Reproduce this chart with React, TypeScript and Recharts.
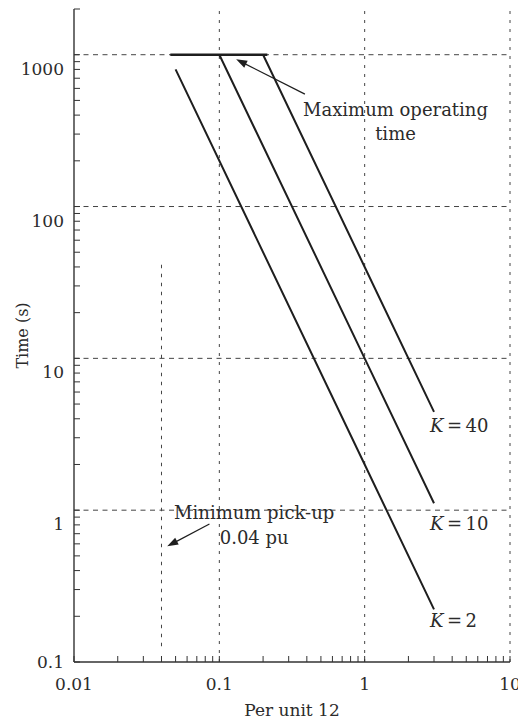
import React from 'react';
import { LineChart, Line, XAxis, YAxis, ReferenceLine, ReferenceDot, Label } from 'recharts';

// ---- data ----
const xDecades = [0.01, 0.1, 1, 10];
const xTickLabels = ['0.01', '0.1', '1', '10'];
const yDecades = [0.1, 1, 10, 100, 1000];
const yTickLabels = ['0.1', '1', '10', '100', '1000'];
const minorSteps = [2, 3, 4, 5, 6, 7, 8, 9];
const xGridValues = [0.1, 1, 10];
const yGridValues = [1, 10, 100, 1000];

const curveK2 = [{ I: 0.05, t: 800 }, { I: 1, t: 2 }, { I: 3, t: 0.222 }];
const curveK10 = [{ I: 0.1, t: 1000 }, { I: 1, t: 10 }, { I: 3, t: 1.11 }];
const curveK40 = [{ I: 0.2, t: 1000 }, { I: 1, t: 40 }, { I: 3, t: 4.44 }];
const maxTimeLine = [{ I: 0.046, t: 1000 }, { I: 0.214, t: 1000 }];
const minPickupLine = [{ I: 0.04, t: 0.127 }, { I: 0.04, t: 42 }];

// annotation anchors (data coordinates)
const maxArrow = [{ x: 0.388, y: 550 }, { x: 0.1305, y: 933 }];
const minArrow = [{ x: 0.0855, y: 0.811 }, { x: 0.0438, y: 0.578 }];
const maxText = { x: 1.63, y: 394, lines: ['Maximum operating', 'time'] };
const minText = { x: 0.1737, y: 0.88, lines: ['Minimum pick-up', '0.04 pu'] };
const kLabels = [
  { k: '40', x: 2.81, y: 3.27 },
  { k: '10', x: 2.81, y: 0.745 },
  { k: '2', x: 2.81, y: 0.169 },
];

const xTicks = [...xDecades, ...xDecades.slice(0, -1).flatMap((d) => minorSteps.map((m) => +(d * m).toPrecision(6)))].sort((a, b) => a - b);
const yTicks = [...yDecades, ...yDecades.flatMap((d) => minorSteps.map((m) => +(d * m).toPrecision(6)))]
  .filter((v) => v <= 2000)
  .sort((a, b) => a - b);

const FONT = '"DejaVu Serif", serif';
const INK = '#1e1e1e';
const TEXT = '#2b2b2b';
const AXIS = '#333';
const GRID = '#444';

const findIdx = (arr: number[], v: number) => arr.findIndex((d) => Math.abs(v - d) < d * 1e-6);

const BottomTick = (p: any) => {
  const { x, y, payload } = p;
  const idx = findIdx(xDecades, payload.value);
  return (
    <g>
      <line x1={x} y1={y} x2={x} y2={y - 6} stroke={AXIS} strokeWidth={1} />
      {idx >= 0 && (
        <text x={x} y={y + 28} textAnchor="middle" fontFamily={FONT} fontSize={17} fill={TEXT}>
          {xTickLabels[idx]}
        </text>
      )}
    </g>
  );
};

const TopTick = (p: any) => {
  const { x, y } = p;
  return <line x1={x} y1={y} x2={x} y2={y + 6} stroke={AXIS} strokeWidth={1} />;
};

const LeftTick = (p: any) => {
  const { x, y, payload } = p;
  const idx = findIdx(yDecades, payload.value);
  return (
    <g>
      <line x1={x} y1={y} x2={x + 6} y2={y} stroke={AXIS} strokeWidth={1} />
      {idx >= 0 && (
        <text x={x - 10} y={y + (idx === 0 ? 6 : 20)} textAnchor="end" fontFamily={FONT} fontSize={17} fill={TEXT}>
          {yTickLabels[idx]}
        </text>
      )}
    </g>
  );
};

const ArrowShape = (p: any) => {
  const { x1, y1, x2, y2 } = p;
  const dx = x2 - x1;
  const dy = y2 - y1;
  const len = Math.sqrt(dx * dx + dy * dy) || 1;
  const ux = dx / len;
  const uy = dy / len;
  const L = 11;
  const W = 3.8;
  const bx = x2 - ux * L;
  const by = y2 - uy * L;
  const pts = `${x2},${y2} ${bx - uy * W},${by + ux * W} ${bx + uy * W},${by - ux * W}`;
  return (
    <g>
      <line x1={x1} y1={y1} x2={bx + ux * 2} y2={by + uy * 2} stroke={INK} strokeWidth={1.2} />
      <polygon points={pts} fill={INK} />
    </g>
  );
};

const multiLine = (lines: string[], gap: number) => (p: any) => (
  <text x={p.cx} y={p.cy} textAnchor="middle" fontFamily={FONT} fontSize={18} fill={TEXT}>
    {lines.map((l, i) => (
      <tspan key={i} x={p.cx} dy={i === 0 ? 0 : gap}>
        {l}
      </tspan>
    ))}
  </text>
);

const kLabel = (k: string) => (p: any) => (
  <text x={p.cx} y={p.cy} textAnchor="start" fontFamily={FONT} fontSize={18} fill={TEXT}>
    <tspan fontStyle="italic">K</tspan>
    {'\u2009=\u2009' + k}
  </text>
);

export default function App() {
  return (
    <div style={{ position: 'fixed', left: 0, top: 0, width: 518, height: 719, background: '#fff' }}>
      <LineChart width={518} height={719} margin={{ top: 9, right: 8, bottom: 0, left: 0 }}>
        <XAxis
          xAxisId="bottom"
          dataKey="I"
          type="number"
          scale="log"
          domain={[0.01, 10]}
          allowDataOverflow
          ticks={xTicks}
          interval={0}
          tick={BottomTick}
          tickLine={false}
          tickSize={0}
          tickMargin={0}
          height={57}
          axisLine={{ stroke: AXIS, strokeWidth: 1.4 }}
        >
          <Label
            content={(p: any) => {
              const vb = p.viewBox || { x: 74, y: 662, width: 436, height: 57 };
              return (
                <text x={vb.x + vb.width / 2} y={vb.y + 54} textAnchor="middle" fontFamily={FONT} fontSize={17} fill={TEXT}>
                  Per unit 12
                </text>
              );
            }}
          />
        </XAxis>
        <XAxis
          xAxisId="top"
          orientation="top"
          dataKey="I"
          type="number"
          scale="log"
          domain={[0.01, 10]}
          allowDataOverflow
          ticks={xTicks}
          interval={0}
          tick={TopTick}
          tickLine={false}
          tickSize={0}
          tickMargin={0}
          height={0}
          axisLine={{ stroke: AXIS, strokeWidth: 1.4 }}
        />
        <YAxis
          dataKey="t"
          type="number"
          scale="log"
          domain={[0.1, 2000]}
          allowDataOverflow
          ticks={yTicks}
          interval={0}
          tick={LeftTick}
          tickLine={false}
          tickSize={0}
          tickMargin={0}
          width={74}
          axisLine={{ stroke: AXIS, strokeWidth: 1.4 }}
        >
          <Label
            content={(p: any) => {
              const vb = p.viewBox || { x: 0, y: 9, width: 74, height: 653 };
              const cx = vb.x + 22;
              const cy = vb.y + vb.height / 2;
              return (
                <text
                  x={cx}
                  y={cy}
                  textAnchor="middle"
                  dominantBaseline="central"
                  transform={`rotate(-90 ${cx} ${cy})`}
                  fontFamily={FONT}
                  fontSize={16}
                  fill={TEXT}
                >
                  Time (s)
                </text>
              );
            }}
          />
        </YAxis>

        {yGridValues.map((v) => (
          <ReferenceLine key={'gy' + v} xAxisId="bottom" y={v} stroke={GRID} strokeWidth={1} strokeDasharray="5 4.5" />
        ))}
        {xGridValues.map((v) => (
          <ReferenceLine key={'gx' + v} xAxisId="bottom" x={v} stroke={GRID} strokeWidth={1} strokeDasharray="3 6" />
        ))}

        <Line xAxisId="bottom" data={minPickupLine} dataKey="t" stroke={GRID} strokeWidth={1} strokeDasharray="3.5 5.5" dot={false} isAnimationActive={false} />
        <Line xAxisId="bottom" data={maxTimeLine} dataKey="t" stroke={INK} strokeWidth={2.6} dot={false} isAnimationActive={false} />
        <Line xAxisId="bottom" data={curveK2} dataKey="t" stroke={INK} strokeWidth={2} dot={false} isAnimationActive={false} />
        <Line xAxisId="bottom" data={curveK10} dataKey="t" stroke={INK} strokeWidth={2} dot={false} isAnimationActive={false} />
        <Line xAxisId="bottom" data={curveK40} dataKey="t" stroke={INK} strokeWidth={2} dot={false} isAnimationActive={false} />

        <ReferenceLine xAxisId="bottom" segment={maxArrow} shape={ArrowShape} />
        <ReferenceLine xAxisId="bottom" segment={minArrow} shape={ArrowShape} />

        <ReferenceDot xAxisId="bottom" x={maxText.x} y={maxText.y} r={0} shape={multiLine(maxText.lines, 24)} />
        <ReferenceDot xAxisId="bottom" x={minText.x} y={minText.y} r={0} shape={multiLine(minText.lines, 25)} />
        {kLabels.map((k) => (
          <ReferenceDot key={'k' + k.k} xAxisId="bottom" x={k.x} y={k.y} r={0} shape={kLabel(k.k)} />
        ))}
      </LineChart>
    </div>
  );
}
